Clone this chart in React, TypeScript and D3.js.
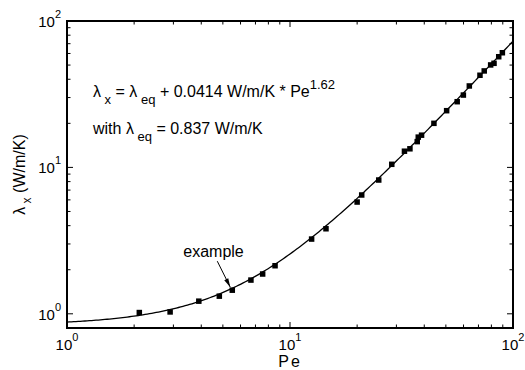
import * as d3 from "d3";

// measured points (Pe, lambda_x in W/m/K)
const peValues = [
  2.11, 2.9, 3.9, 4.82, 5.51, 6.68, 7.54, 8.57, 12.5, 14.5, 20.0, 20.97, 25.0,
  28.6, 32.6, 34.5, 37.2, 37.6, 38.9, 44.2, 50.4, 56.2, 59.9, 63.7, 71.1, 74.3,
  79.4, 82.2, 86.3, 89.6,
];
const lambdaValues = [
  1.02, 1.03, 1.22, 1.32, 1.45, 1.7, 1.87, 2.13, 3.24, 3.81, 5.8, 6.48, 8.2,
  10.5, 12.9, 13.4, 15.0, 16.1, 16.6, 20.0, 24.4, 28.1, 31.2, 36.0, 42.6, 45.6,
  50.1, 51.4, 57.0, 60.7,
];

// fit: lambda_x = lambdaEq + coef * Pe^expo
const lambdaEq = 0.837;
const coef = 0.0414;
const expo = 1.62;

const xDecades = [0, 1, 2];
const yDecades = [0, 1, 2];
const xMinor = [2, 3, 4, 5, 6, 7, 8, 9, 20, 30, 40, 50, 60, 70, 80, 90];
const yMinor = [2, 3, 4, 5, 6, 7, 8, 9, 20, 30, 40, 50, 60, 70, 80, 90];
const examplePe = 5.51;
const exampleLambda = 1.45;

const width = 525;
const height = 370;
const marginLeft = 67;
const marginRight = 12;
const marginTop = 21;
const marginBottom = 42;
const font = "'Liberation Sans', Arial, Helvetica, sans-serif";

export default function App() {
  const x = d3.scaleLog().domain([1, 100]).range([marginLeft, width - marginRight]);
  const y = d3.scaleLog().domain([0.8, 100]).range([height - marginBottom, marginTop]);
  const [x0, x1] = x.range();
  const [y0, y1] = y.range();

  const fitPts = d3.range(0, 2.0001, 0.01).map((e) => {
    const pe = Math.pow(10, e);
    return [pe, lambdaEq + coef * Math.pow(pe, expo)] as [number, number];
  });
  const line = d3
    .line<[number, number]>()
    .x((d) => x(d[0]))
    .y((d) => y(d[1]));

  const points = peValues.map((pe, i) => ({ pe, lam: lambdaValues[i] }));
  const sq = 5.5;
  const major = 6;
  const minor = 3.5;

  const ex = x(examplePe);
  const ey = y(exampleLambda);

  return (
    <svg
      width={width}
      height={height}
      style={{ position: "absolute", left: 0, top: 0, background: "#fff" }}
      fontFamily={font}
    >
      <defs>
        <clipPath id="plot">
          <rect x={x0} y={y1} width={x1 - x0} height={y0 - y1} />
        </clipPath>
        <marker id="arr" viewBox="0 0 12 8" refX="12" refY="4" markerWidth="9" markerHeight="6" orient="auto">
          <path d="M0,1 L12,4 L0,7 z" fill="#000" />
        </marker>
      </defs>

      {/* fit curve */}
      <path d={line(fitPts) ?? ""} fill="none" stroke="#000" strokeWidth={1.3} clipPath="url(#plot)" />

      {/* data */}
      {points.map((d, i) => (
        <rect key={i} x={x(d.pe) - sq / 2} y={y(d.lam) - sq / 2} width={sq} height={sq} fill="#000" />
      ))}

      {/* ticks, inward on all sides */}
      <g stroke="#000" strokeWidth={1}>
        {xDecades.map((e) => {
          const px = x(Math.pow(10, e));
          return (
            <g key={"xm" + e}>
              <line x1={px} x2={px} y1={y0} y2={y0 - major} />
              <line x1={px} x2={px} y1={y1} y2={y1 + major} />
            </g>
          );
        })}
        {xMinor.map((v) => (
          <g key={"xn" + v}>
            <line x1={x(v)} x2={x(v)} y1={y0} y2={y0 - minor} />
            <line x1={x(v)} x2={x(v)} y1={y1} y2={y1 + minor} />
          </g>
        ))}
        {yDecades.map((e) => {
          const py = y(Math.pow(10, e));
          return (
            <g key={"ym" + e}>
              <line x1={x0} x2={x0 + major} y1={py} y2={py} />
              <line x1={x1} x2={x1 - major} y1={py} y2={py} />
            </g>
          );
        })}
        {yMinor.map((v) => (
          <g key={"yn" + v}>
            <line x1={x0} x2={x0 + minor} y1={y(v)} y2={y(v)} />
            <line x1={x1} x2={x1 - minor} y1={y(v)} y2={y(v)} />
          </g>
        ))}
      </g>

      {/* frame */}
      <rect x={x0} y={y1} width={x1 - x0} height={y0 - y1} fill="none" stroke="#000" strokeWidth={2} />

      {/* tick labels */}
      <g fontSize={15} fill="#000">
        {xDecades.map((e) => (
          <text key={"xl" + e} x={x(Math.pow(10, e))} y={350} textAnchor="middle">
            10<tspan dy={-9} fontSize={11}>{e}</tspan>
          </text>
        ))}
        {yDecades.map((e) => (
          <text key={"yl" + e} x={x0 - 6} y={y(Math.pow(10, e)) + 6} textAnchor="end">
            10<tspan dy={-9} fontSize={11}>{e}</tspan>
          </text>
        ))}
      </g>

      {/* axis titles */}
      <text x={x(10)} y={367} textAnchor="middle" fontSize={16} letterSpacing={2}>
        Pe
      </text>
      <text transform={`translate(25,${(y0 + y1) / 2}) rotate(-90)`} textAnchor="middle" fontSize={16}>
        λ<tspan dy={6} fontSize={12}> x</tspan>
        <tspan dy={-6}> (W/m/K)</tspan>
      </text>

      {/* equation */}
      <text x={93} y={97} fontSize={16}>
        λ<tspan dy={7} fontSize={13}> x</tspan>
        <tspan dy={-7}> = λ</tspan>
        <tspan dy={7} fontSize={13}> eq</tspan>
        <tspan dy={-7}> + 0.0414 W/m/K * Pe</tspan>
        <tspan dy={-8} fontSize={13}>1.62</tspan>
      </text>
      <text x={93} y={134} fontSize={16}>
        with λ<tspan dy={7} fontSize={13}> eq</tspan>
        <tspan dy={-7}> = 0.837 W/m/K</tspan>
      </text>

      {/* example annotation */}
      <text x={ex - 49} y={ey - 33} fontSize={16}>
        example
      </text>
      <line x1={ex - 15} y1={ey - 29} x2={ex - 2} y2={ey - 3} stroke="#000" strokeWidth={1} markerEnd="url(#arr)" />
    </svg>
  );
}
